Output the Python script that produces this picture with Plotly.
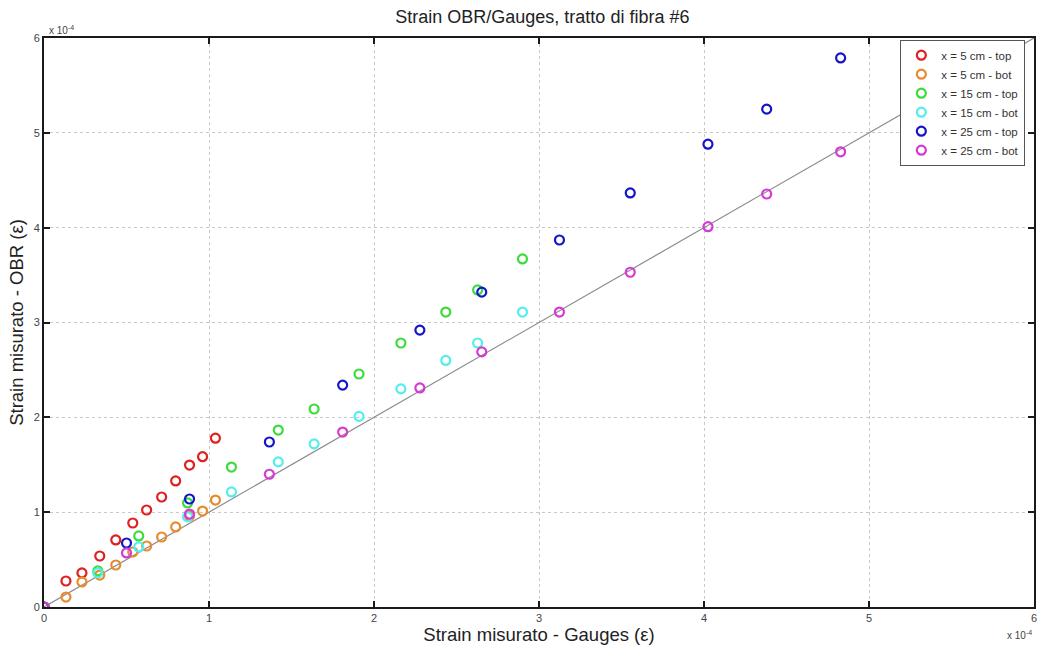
import plotly.graph_objects as go

# values in units of 1e-4 (strain)
x_5cm = [0, 0.133, 0.23, 0.338, 0.435, 0.538, 0.622, 0.713, 0.798, 0.882, 0.961, 1.039]
y_5top = [0, 0.274, 0.359, 0.538, 0.707, 0.886, 1.023, 1.16, 1.329, 1.497, 1.585, 1.78]
y_5bot = [0, 0.105, 0.264, 0.337, 0.443, 0.58, 0.643, 0.738, 0.844, 0.96, 1.012, 1.128]

x_15cm = [0, 0.326, 0.574, 0.87, 1.136, 1.42, 1.637, 1.909, 2.163, 2.435, 2.628, 2.9]
y_15top = [0, 0.38, 0.749, 1.097, 1.476, 1.866, 2.088, 2.457, 2.784, 3.11, 3.343, 3.67]
y_15bot = [0, 0.36, 0.633, 0.95, 1.213, 1.53, 1.72, 2.01, 2.30, 2.60, 2.784, 3.11]

x_25cm = [0, 0.5, 0.882, 1.366, 1.81, 2.278, 2.653, 3.124, 3.553, 4.024, 4.38, 4.828]
y_25top = [0, 0.675, 1.139, 1.74, 2.34, 2.92, 3.32, 3.87, 4.366, 4.88, 5.25, 5.79]
y_25bot = [0, 0.57, 0.98, 1.40, 1.845, 2.31, 2.69, 3.11, 3.53, 4.01, 4.355, 4.80]

ref_x = [0, 6]
ref_y = [0, 6]

ticks = [0, 1, 2, 3, 4, 5, 6]
tick_labels = ["0", "1", "2", "3", "4", "5", "6"]

series = [
    ("x = 5 cm - top", x_5cm, y_5top, "#e01f1f"),
    ("x = 5 cm - bot", x_5cm, y_5bot, "#e88a2e"),
    ("x = 15 cm - top", x_15cm, y_15top, "#3cdc3c"),
    ("x = 15 cm - bot", x_15cm, y_15bot, "#55eeee"),
    ("x = 25 cm - top", x_25cm, y_25top, "#1515c8"),
    ("x = 25 cm - bot", x_25cm, y_25bot, "#d63ad6"),
]

FONT = "Arial, Liberation Sans, sans-serif"

fig = go.Figure()
fig.add_trace(go.Scatter(x=ref_x, y=ref_y, mode="lines",
                         line=dict(color="#8c8c8c", width=1.2),
                         showlegend=False, hoverinfo="skip"))
for name, xs, ys, col in series:
    fig.add_trace(go.Scatter(
        x=xs, y=ys, mode="markers", name=name,
        marker=dict(symbol="circle-open", size=9, color=col,
                    line=dict(color=col, width=2.2)),
    ))

axis_common = dict(
    range=[0, 6], tickvals=ticks, ticktext=tick_labels,
    showgrid=True, gridcolor="#c8c8c8", griddash="dot", gridwidth=1,
    zeroline=False, showline=True, linecolor="#1a1a1a", linewidth=2,
    mirror="ticks", ticks="inside", ticklen=6, tickwidth=2, tickcolor="#1a1a1a",
    tickfont=dict(family=FONT, size=11, color="#444444"),
)

fig.update_layout(
    width=1043, height=649,
    margin=dict(l=44, r=6, t=38, b=42),
    paper_bgcolor="white", plot_bgcolor="white",
    font=dict(family=FONT, color="#222222"),
    title=dict(text="Strain OBR/Gauges, tratto di fibra #6",
               x=0.52, xanchor="center", y=0.974, yanchor="middle",
               font=dict(family=FONT, size=18, color="#222222")),
    xaxis=dict(axis_common,
               title=dict(text="Strain misurato - Gauges (ε)", standoff=3,
                          font=dict(family=FONT, size=18.5, color="#222222"))),
    yaxis=dict(axis_common,
               title=dict(text="Strain misurato - OBR (ε)", standoff=5,
                          font=dict(family=FONT, size=18.5, color="#222222"))),
    legend=dict(x=0.865, y=0.997, xanchor="left", yanchor="top",
                bgcolor="white", bordercolor="#555555", borderwidth=1,
                font=dict(family=FONT, size=11.5, color="#333333"),
                itemwidth=30, tracegroupgap=0),
    annotations=[
        dict(text="x 10<sup>-4</sup>", xref="paper", yref="paper",
             x=0.003, y=1.0, xanchor="left", yanchor="bottom", showarrow=False,
             font=dict(family=FONT, size=10, color="#444444")),
        dict(text="x 10<sup>-4</sup>", xref="paper", yref="paper",
             x=1.0, y=-0.035, xanchor="right", yanchor="top", showarrow=False,
             font=dict(family=FONT, size=10, color="#444444")),
    ],
)

fig.write_html("out.html")
